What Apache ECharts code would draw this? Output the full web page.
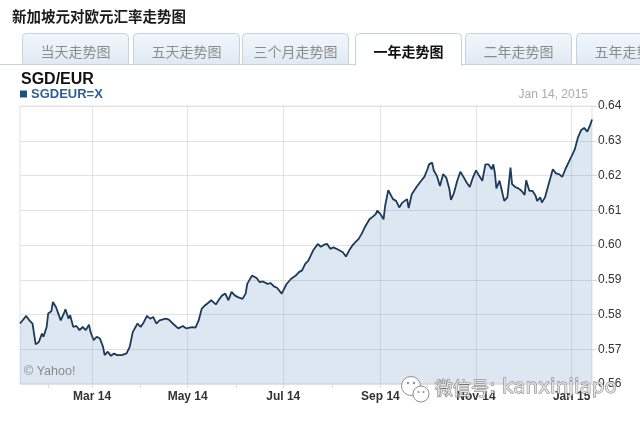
<!DOCTYPE html>
<html><head><meta charset="utf-8">
<script src="https://cdn.jsdelivr.net/npm/echarts@6/dist/echarts.min.js"></script>
<style>html,body{margin:0;padding:0;background:#fff}#c{width:640px;height:421px}</style>
</head><body><div id="c"></div>
<script>
const pageTitle = '新加坡元对欧元汇率走势图';
const tabNames = ['当天走势图','五天走势图','三个月走势图','一年走势图','二年走势图','五年走势图'];
const activeTab = 3;
const pairName = 'SGD/EUR';
const symbolName = 'SGDEUR=X';
const dateStamp = 'Jan 14, 2015';
const credit = '© Yahoo!';
const watermarkCn = '微信号';
const watermarkId = ': kanxinjiapo';

const dates = [
'2014-01-14','2014-01-18','2014-01-20','2014-01-22','2014-01-24','2014-01-26','2014-01-28','2014-01-29','2014-01-31',
'2014-02-01','2014-02-03','2014-02-04','2014-02-06','2014-02-09','2014-02-11','2014-02-12','2014-02-14','2014-02-15','2014-02-17','2014-02-19','2014-02-21','2014-02-23','2014-02-25','2014-02-27','2014-02-28',
'2014-03-02','2014-03-04','2014-03-06','2014-03-08','2014-03-09','2014-03-11','2014-03-13','2014-03-15','2014-03-17','2014-03-20','2014-03-23','2014-03-25','2014-03-27','2014-03-30',
'2014-04-01','2014-04-03','2014-04-05','2014-04-07','2014-04-09','2014-04-11','2014-04-13','2014-04-17','2014-04-19','2014-04-20','2014-04-22','2014-04-25','2014-04-28','2014-04-30',
'2014-05-04','2014-05-06','2014-05-08','2014-05-10','2014-05-12','2014-05-14','2014-05-16','2014-05-19','2014-05-21','2014-05-23','2014-05-25','2014-05-27','2014-05-29','2014-05-31',
'2014-06-02','2014-06-05','2014-06-07','2014-06-08','2014-06-11','2014-06-12','2014-06-14','2014-06-16','2014-06-18','2014-06-21','2014-06-23','2014-06-25','2014-06-27','2014-06-30',
'2014-07-01','2014-07-03','2014-07-06','2014-07-07','2014-07-09','2014-07-11','2014-07-13','2014-07-15','2014-07-17','2014-07-18','2014-07-20','2014-07-23','2014-07-25','2014-07-27','2014-07-29','2014-07-31',
'2014-08-02','2014-08-04','2014-08-08','2014-08-10','2014-08-12','2014-08-14','2014-08-16','2014-08-18','2014-08-20','2014-08-22','2014-08-25','2014-08-27','2014-08-29','2014-08-30',
'2014-09-01','2014-09-03','2014-09-04','2014-09-06','2014-09-07','2014-09-09','2014-09-11','2014-09-13','2014-09-15','2014-09-18','2014-09-19','2014-09-21','2014-09-22','2014-09-24','2014-09-27','2014-09-29',
'2014-10-01','2014-10-02','2014-10-04','2014-10-05','2014-10-07','2014-10-09','2014-10-11','2014-10-13','2014-10-15','2014-10-16','2014-10-18','2014-10-20','2014-10-22','2014-10-24','2014-10-26','2014-10-28','2014-10-30',
'2014-11-01','2014-11-03','2014-11-05','2014-11-07','2014-11-09','2014-11-11','2014-11-12','2014-11-13','2014-11-14','2014-11-16','2014-11-18','2014-11-19','2014-11-21','2014-11-23','2014-11-24','2014-11-26','2014-11-28','2014-11-30',
'2014-12-02','2014-12-03','2014-12-05','2014-12-07','2014-12-09','2014-12-10','2014-12-12','2014-12-13','2014-12-15','2014-12-17','2014-12-20','2014-12-22','2014-12-24','2014-12-26','2014-12-28','2014-12-30',
'2015-01-01','2015-01-03','2015-01-05','2015-01-07','2015-01-09','2015-01-11','2015-01-13','2015-01-14'
];
const rates = [
0.5774,0.5796,0.5783,0.5774,0.5714,0.5721,0.5745,0.5736,0.5764,
0.5803,0.5809,0.5836,0.5821,0.5783,0.5803,0.5815,0.5788,0.5798,0.5764,0.5767,0.5755,0.5764,0.5755,0.5771,0.5750,
0.5726,0.5736,0.5731,0.5707,0.5683,0.5693,0.5681,0.5688,0.5683,0.5683,0.5688,0.5707,0.5750,0.5774,
0.5764,0.5778,0.5796,0.5788,0.5793,0.5774,0.5783,0.5788,0.5785,0.5783,0.5772,0.5760,0.5767,0.5760,
0.5764,0.5762,0.5783,0.5817,0.5826,0.5833,0.5841,0.5829,0.5843,0.5855,0.5860,0.5841,0.5865,0.5855,
0.5850,0.5845,0.5860,0.5888,0.5912,0.5915,0.5905,0.5893,0.5895,0.5888,0.5890,0.5881,0.5877,0.5860,
0.5869,0.5887,0.5903,0.5907,0.5912,0.5922,0.5927,0.5946,0.5955,0.5960,0.5984,0.6003,0.5995,0.6001,0.6003,0.5989,
0.5993,0.5989,0.5979,0.5967,0.5984,0.5998,0.6008,0.6017,0.6032,0.6051,0.6074,0.6081,0.6089,0.6099,
0.6089,0.6074,0.6113,0.6158,0.6163,0.6132,0.6127,0.6108,0.6122,0.6132,0.6106,0.6146,0.6142,0.6167,0.6185,0.6196,
0.6218,0.6232,0.6237,0.6215,0.6199,0.6170,0.6204,0.6194,0.6161,0.6130,0.6151,0.6185,0.6211,0.6196,0.6180,0.6167,0.6194,
0.6215,0.6199,0.6185,0.6232,0.6232,0.6218,0.6232,0.6208,0.6163,0.6185,0.6146,0.6127,0.6137,0.6223,0.6175,0.6167,0.6163,0.6156,
0.6144,0.6186,0.6156,0.6156,0.6142,0.6127,0.6137,0.6122,0.6137,0.6170,0.6218,0.6206,0.6204,0.6196,0.6218,0.6237,
0.6256,0.6275,0.6309,0.6330,0.6337,0.6326,0.6347,0.6361
];
const xStart = '2014-01-14';
const xEnd = '2015-01-14';
const labelDates = ['2014-03-01','2014-05-01','2014-07-01','2014-09-01','2014-11-01','2015-01-01'];
const labelTexts = ['Mar 14','May 14','Jul 14','Sep 14','Nov 14','Jan 15'];
const monthTickDates = ['2014-02-01','2014-03-01','2014-04-01','2014-05-01','2014-06-01','2014-07-01','2014-08-01','2014-09-01','2014-10-01','2014-11-01','2014-12-01','2015-01-01'];
const yMin = 0.56, yMax = 0.64, yStep = 0.01;

const chart = echarts.init(document.getElementById('c'), null, {renderer: 'canvas'});
const ts = s => { const p = s.split('-').map(Number); return Date.UTC(p[0], p[1] - 1, p[2]); };
const labelStamps = labelDates.map(ts);
const tickStamps = monthTickDates.map(ts);
const seriesData = dates.map((d, i) => [ts(d), rates[i]]);

const CJK = '"Noto Sans CJK SC"';
const ARIAL = '"Liberation Sans", Arial, sans-serif';
const tabX = [22, 133, 242, 355, 465, 576];
const tabW = 106, tabY = 33.5, tabH = 31;

const graphics = [];
graphics.push({type: 'text', style: {x: 12, y: 16.5, text: pageTitle, font: 'bold 14.5px ' + CJK, fill: '#1a1a1a', verticalAlign: 'middle'}});
graphics.push({type: 'line', shape: {x1: 0, y1: 64.5, x2: tabX[activeTab] + 0.5, y2: 64.5}, style: {stroke: '#c3d3e3', lineWidth: 1}});
graphics.push({type: 'line', shape: {x1: tabX[activeTab] + tabW + 0.5, y1: 64.5, x2: 640, y2: 64.5}, style: {stroke: '#c3d3e3', lineWidth: 1}});
tabNames.forEach((name, i) => {
  const active = i === activeTab;
  graphics.push({type: 'rect', shape: {x: tabX[i] + 0.5, y: tabY, width: tabW, height: active ? tabH + 1 : tabH, r: [4, 4, 0, 0]},
    style: {fill: active ? '#ffffff' : new echarts.graphic.LinearGradient(0, 0, 0, 1, [{offset: 0, color: '#f3f7fb'}, {offset: 1, color: '#dfe9f4'}]),
      stroke: '#c3d3e3', lineWidth: 1}});
  if (active) graphics.push({type: 'rect', shape: {x: tabX[i] + 1, y: 63, width: tabW - 1, height: 3}, style: {fill: '#fff'}});
  graphics.push({type: 'text', style: {x: tabX[i] + tabW / 2 + 0.5, y: 51.5, text: name, align: 'center', verticalAlign: 'middle',
    font: (active ? 'bold ' : '') + '14px ' + CJK, fill: active ? '#111' : '#8c8c8c'}});
});
graphics.push({type: 'text', style: {x: 21, y: 80, text: pairName, font: 'bold 16px ' + ARIAL, fill: '#111', verticalAlign: 'middle'}});
graphics.push({type: 'rect', shape: {x: 20, y: 90.5, width: 7, height: 7}, style: {fill: '#1f4f86'}});
graphics.push({type: 'text', style: {x: 31, y: 94.5, text: symbolName, font: 'bold 13px ' + ARIAL, fill: '#2e5f96', verticalAlign: 'middle'}});
graphics.push({type: 'text', style: {x: 588, y: 95, text: dateStamp, font: '12px ' + ARIAL, fill: '#ababab', align: 'right', verticalAlign: 'middle'}});
graphics.push({type: 'text', z: 10, style: {x: 24, y: 372, text: credit, font: '12.5px ' + ARIAL, fill: '#8a8a8a', verticalAlign: 'middle'}});
graphics.push({type: 'circle', z: 20, shape: {cx: 411, cy: 386, r: 9.5}, style: {fill: '#fff', stroke: '#8f8f8f', lineWidth: 1}});
graphics.push({type: 'circle', z: 21, shape: {cx: 421, cy: 394, r: 8}, style: {fill: '#fff', stroke: '#8f8f8f', lineWidth: 1}});
graphics.push({type: 'circle', z: 22, shape: {cx: 408, cy: 383, r: 1.2}, style: {fill: '#8f8f8f'}});
graphics.push({type: 'circle', z: 22, shape: {cx: 414, cy: 383, r: 1.2}, style: {fill: '#8f8f8f'}});
graphics.push({type: 'circle', z: 22, shape: {cx: 418.5, cy: 392, r: 1}, style: {fill: '#8f8f8f'}});
graphics.push({type: 'circle', z: 22, shape: {cx: 423.5, cy: 392, r: 1}, style: {fill: '#8f8f8f'}});
graphics.push({type: 'text', z: 20, style: {x: 435, y: 388, text: watermarkCn, font: '18px ' + CJK, fill: '#e2e2e2', stroke: '#727272', lineWidth: 0.9, verticalAlign: 'middle'}});
graphics.push({type: 'text', z: 20, style: {x: 489, y: 388, text: watermarkId, font: '20px "DejaVu Sans", sans-serif', fill: '#e2e2e2', stroke: '#727272', lineWidth: 0.9, verticalAlign: 'middle'}});

const option = {
  animation: false,
  backgroundColor: '#fff',
  grid: {left: 20, right: 48, top: 106, bottom: 37, show: true, borderColor: '#e2e2e2', borderWidth: 1, backgroundColor: 'transparent'},
  xAxis: {
    type: 'value', min: ts(xStart), max: ts(xEnd),
    axisLine: {show: false},
    axisTick: {show: true, customValues: tickStamps, length: 4, lineStyle: {color: '#dddddd'}},
    splitLine: {show: false},
    axisLabel: {customValues: labelStamps, margin: 7, fontSize: 12, fontWeight: 'bold', color: '#333', fontFamily: ARIAL,
      formatter: v => { const i = labelStamps.indexOf(+v); return i >= 0 ? labelTexts[i] : ''; }}
  },
  yAxis: {
    type: 'value', position: 'right', min: yMin, max: yMax, interval: yStep,
    axisLine: {show: false},
    axisTick: {show: true, length: 5, lineStyle: {color: '#d8d8d8'}},
    splitLine: {show: true, lineStyle: {color: '#e2e2e2', width: 1}},
    axisLabel: {margin: 6, fontSize: 12, color: '#333', fontFamily: ARIAL, formatter: v => v.toFixed(2)}
  },
  series: [{
    type: 'line', data: seriesData, showSymbol: false, symbol: 'none',
    lineStyle: {color: '#1d3a5a', width: 1.8},
    areaStyle: {color: 'rgba(55,120,180,0.25)', origin: 'start'},
    markLine: {silent: true, symbol: 'none', label: {show: false},
      lineStyle: {color: 'rgba(120,130,140,0.2)', type: 'solid', width: 1},
      data: labelStamps.map(v => ({xAxis: v}))}
  }],
  graphic: graphics
};
chart.setOption(option);
</script>
</body></html>
